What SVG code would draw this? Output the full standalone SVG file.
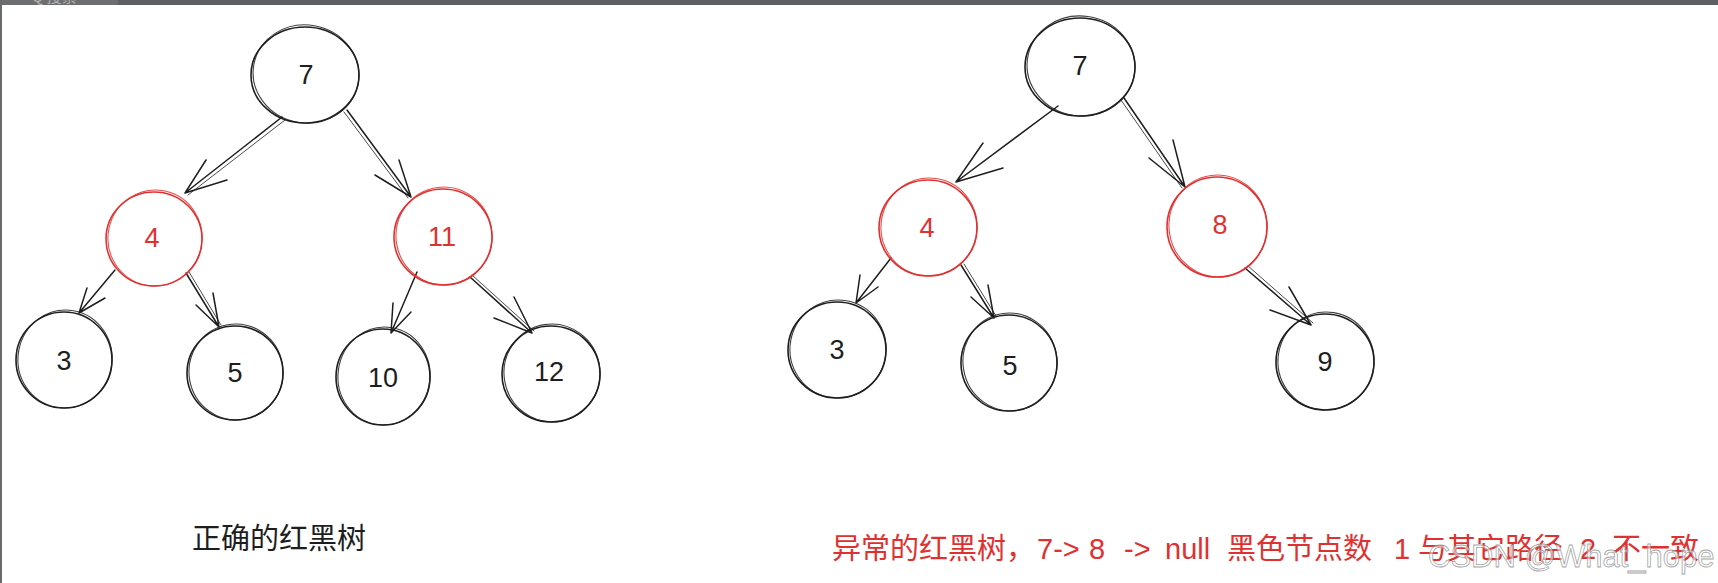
<svg xmlns="http://www.w3.org/2000/svg" width="1718" height="583" viewBox="0 0 1718 583">
<style>
.nb{fill:none;stroke:#1e1e1e;stroke-width:1.6}
.nr{fill:none;stroke:#e03131;stroke-width:1.6}
.n2{stroke-width:1.1;opacity:.85}
.tb{font-family:"Liberation Sans",Arial,sans-serif;font-size:27px;fill:#1e1e1e;text-anchor:middle;dominant-baseline:central}
.tr{font-family:"Liberation Sans",Arial,sans-serif;font-size:27px;fill:#e03131;text-anchor:middle;dominant-baseline:central}
.ar{fill:none;stroke:#1e1e1e;stroke-width:1.5;stroke-linecap:round;stroke-linejoin:round}
.ar2{fill:none;stroke:#1e1e1e;stroke-width:1;stroke-linecap:round;opacity:.8}
.cap{font-family:"Noto Sans CJK SC","Liberation Sans",sans-serif;font-size:29px}
.hand{font-family:"Liberation Sans",Arial,sans-serif;font-size:29px}
</style>
<rect width="1718" height="583" fill="#ffffff"/>
<rect x="0" y="0" width="1718" height="5" fill="#5e5f60"/>
<rect x="0" y="0" width="118" height="5" fill="#6c6d6e"/>
<text x="32" y="2" font-family="Noto Sans CJK SC,sans-serif" font-size="15" fill="#b4b4b4">Q 搜索</text>
<rect x="0" y="0" width="2" height="583" fill="#6a6a6a"/>

<g id="connectors">
  <path class="ar" d="M282,117 L185,193 M206,160 L185,193 L227,180"/>
  <path class="ar2" d="M285,120 L188,195"/>
  <path class="ar" d="M347,110 L411,197 M375,175 L411,197 L399,160"/>
  <path class="ar2" d="M344,112 L408,198"/>
  <path class="ar" d="M115,270 L79,313 M87,288 L79,313 L105,298"/>
  <path class="ar" d="M186,273 L219,327 M196,305 L219,327 L213,293"/>
  <path class="ar2" d="M189,272 L221,325"/>
  <path class="ar" d="M417,272 L391,333 M393,303 L391,333 L411,312"/>
  <path class="ar" d="M470,277 L532,333 M494,318 L532,333 L514,297"/>
  <path class="ar2" d="M472,275 L534,331"/>

  <path class="ar" d="M1058,106 L956,182 M983,143 L956,182 L1003,168"/>
  <path class="ar" d="M1124,98 L1185,187 M1149,158 L1185,187 L1173,140"/>
  <path class="ar2" d="M1121,100 L1182,188"/>
  <path class="ar" d="M891,258 L856,303 M860,275 L856,303 L878,287"/>
  <path class="ar" d="M961,265 L994,318 M971,297 L994,318 L988,285"/>
  <path class="ar2" d="M964,264 L996,316"/>
  <path class="ar" d="M1245,268 L1311,325 M1270,310 L1311,325 L1289,287"/>
  <path class="ar2" d="M1248,266 L1313,323"/>
</g>

<g id="L7">
  <ellipse class="nb" cx="305" cy="75" rx="54" ry="48"/>
  <ellipse class="nb n2" cx="306" cy="74" rx="53" ry="49" transform="rotate(10 306 74)"/>
  <text class="tb" x="306" y="75">7</text>
</g>
<g id="L4">
  <ellipse class="nr" cx="154" cy="239" rx="48" ry="47"/>
  <ellipse class="nr n2" cx="155" cy="238" rx="47" ry="48" transform="rotate(12 155 238)"/>
  <text class="tr" x="152" y="238">4</text>
</g>
<g id="L11">
  <ellipse class="nr" cx="443" cy="237" rx="49" ry="48"/>
  <ellipse class="nr n2" cx="444" cy="236" rx="48" ry="49" transform="rotate(-8 444 236)"/>
  <text class="tr" x="442" y="237">11</text>
</g>
<g id="L3">
  <ellipse class="nb" cx="64" cy="360" rx="48" ry="48"/>
  <ellipse class="nb n2" cx="65" cy="359" rx="47" ry="49" transform="rotate(10 65 359)"/>
  <text class="tb" x="64" y="361">3</text>
</g>
<g id="L5">
  <ellipse class="nb" cx="235" cy="373" rx="48" ry="47"/>
  <ellipse class="nb n2" cx="236" cy="372" rx="47" ry="48" transform="rotate(-10 236 372)"/>
  <text class="tb" x="235" y="373">5</text>
</g>
<g id="L10">
  <ellipse class="nb" cx="383" cy="377" rx="47" ry="48"/>
  <ellipse class="nb n2" cx="384" cy="376" rx="46" ry="49" transform="rotate(8 384 376)"/>
  <text class="tb" x="383" y="378">10</text>
</g>
<g id="L12">
  <ellipse class="nb" cx="551" cy="374" rx="49" ry="48"/>
  <ellipse class="nb n2" cx="552" cy="373" rx="48" ry="49" transform="rotate(-9 552 373)"/>
  <text class="tb" x="549" y="372">12</text>
</g>

<g id="R7">
  <ellipse class="nb" cx="1080" cy="67" rx="55" ry="49"/>
  <ellipse class="nb n2" cx="1081" cy="66" rx="54" ry="50" transform="rotate(8 1081 66)"/>
  <text class="tb" x="1080" y="66">7</text>
</g>
<g id="R4">
  <ellipse class="nr" cx="928" cy="228" rx="49" ry="48"/>
  <ellipse class="nr n2" cx="929" cy="227" rx="48" ry="49" transform="rotate(10 929 227)"/>
  <text class="tr" x="927" y="228">4</text>
</g>
<g id="R8">
  <ellipse class="nr" cx="1217" cy="227" rx="50" ry="50"/>
  <ellipse class="nr n2" cx="1218" cy="226" rx="49" ry="51" transform="rotate(-8 1218 226)"/>
  <text class="tr" x="1220" y="225">8</text>
</g>
<g id="R3">
  <ellipse class="nb" cx="837" cy="350" rx="49" ry="48"/>
  <ellipse class="nb n2" cx="838" cy="349" rx="48" ry="49" transform="rotate(10 838 349)"/>
  <text class="tb" x="837" y="350">3</text>
</g>
<g id="R5">
  <ellipse class="nb" cx="1009" cy="363" rx="48" ry="48"/>
  <ellipse class="nb n2" cx="1010" cy="362" rx="47" ry="49" transform="rotate(-10 1010 362)"/>
  <text class="tb" x="1010" y="366">5</text>
</g>
<g id="R9">
  <ellipse class="nb" cx="1325" cy="362" rx="49" ry="48"/>
  <ellipse class="nb n2" cx="1326" cy="361" rx="48" ry="49" transform="rotate(9 1326 361)"/>
  <text class="tb" x="1325" y="362">9</text>
</g>

<g id="label-left">
  <text class="cap" x="192" y="549" fill="#1e1e1e">正确的红黑树</text>
</g>
<g id="label-right" fill="#e03131">
  <text class="cap" x="832" y="559">异常的红黑树，</text>
  <text class="hand" x="1037" y="559">7-&gt;</text>
  <text class="hand" x="1089" y="559">8</text>
  <text class="hand" x="1124" y="559">-&gt;</text>
  <text class="hand" x="1165" y="559">null</text>
  <text class="cap" x="1227" y="559">黑色节点数</text>
  <text class="hand" x="1394" y="559">1</text>
  <text class="cap" x="1418" y="559">与其它路径</text>
  <text class="hand" x="1580" y="559">2</text>
  <text class="cap" x="1612" y="559">不一致</text>
</g>
<g id="watermark">
  <text x="1428" y="567" font-family="Liberation Sans,Arial,sans-serif" font-size="31" fill="#ffffff" fill-opacity="0.55" stroke="#8a8a8a" stroke-opacity="0.8" stroke-width="0.8">CSDN @What_hope</text>
</g>
</svg>
